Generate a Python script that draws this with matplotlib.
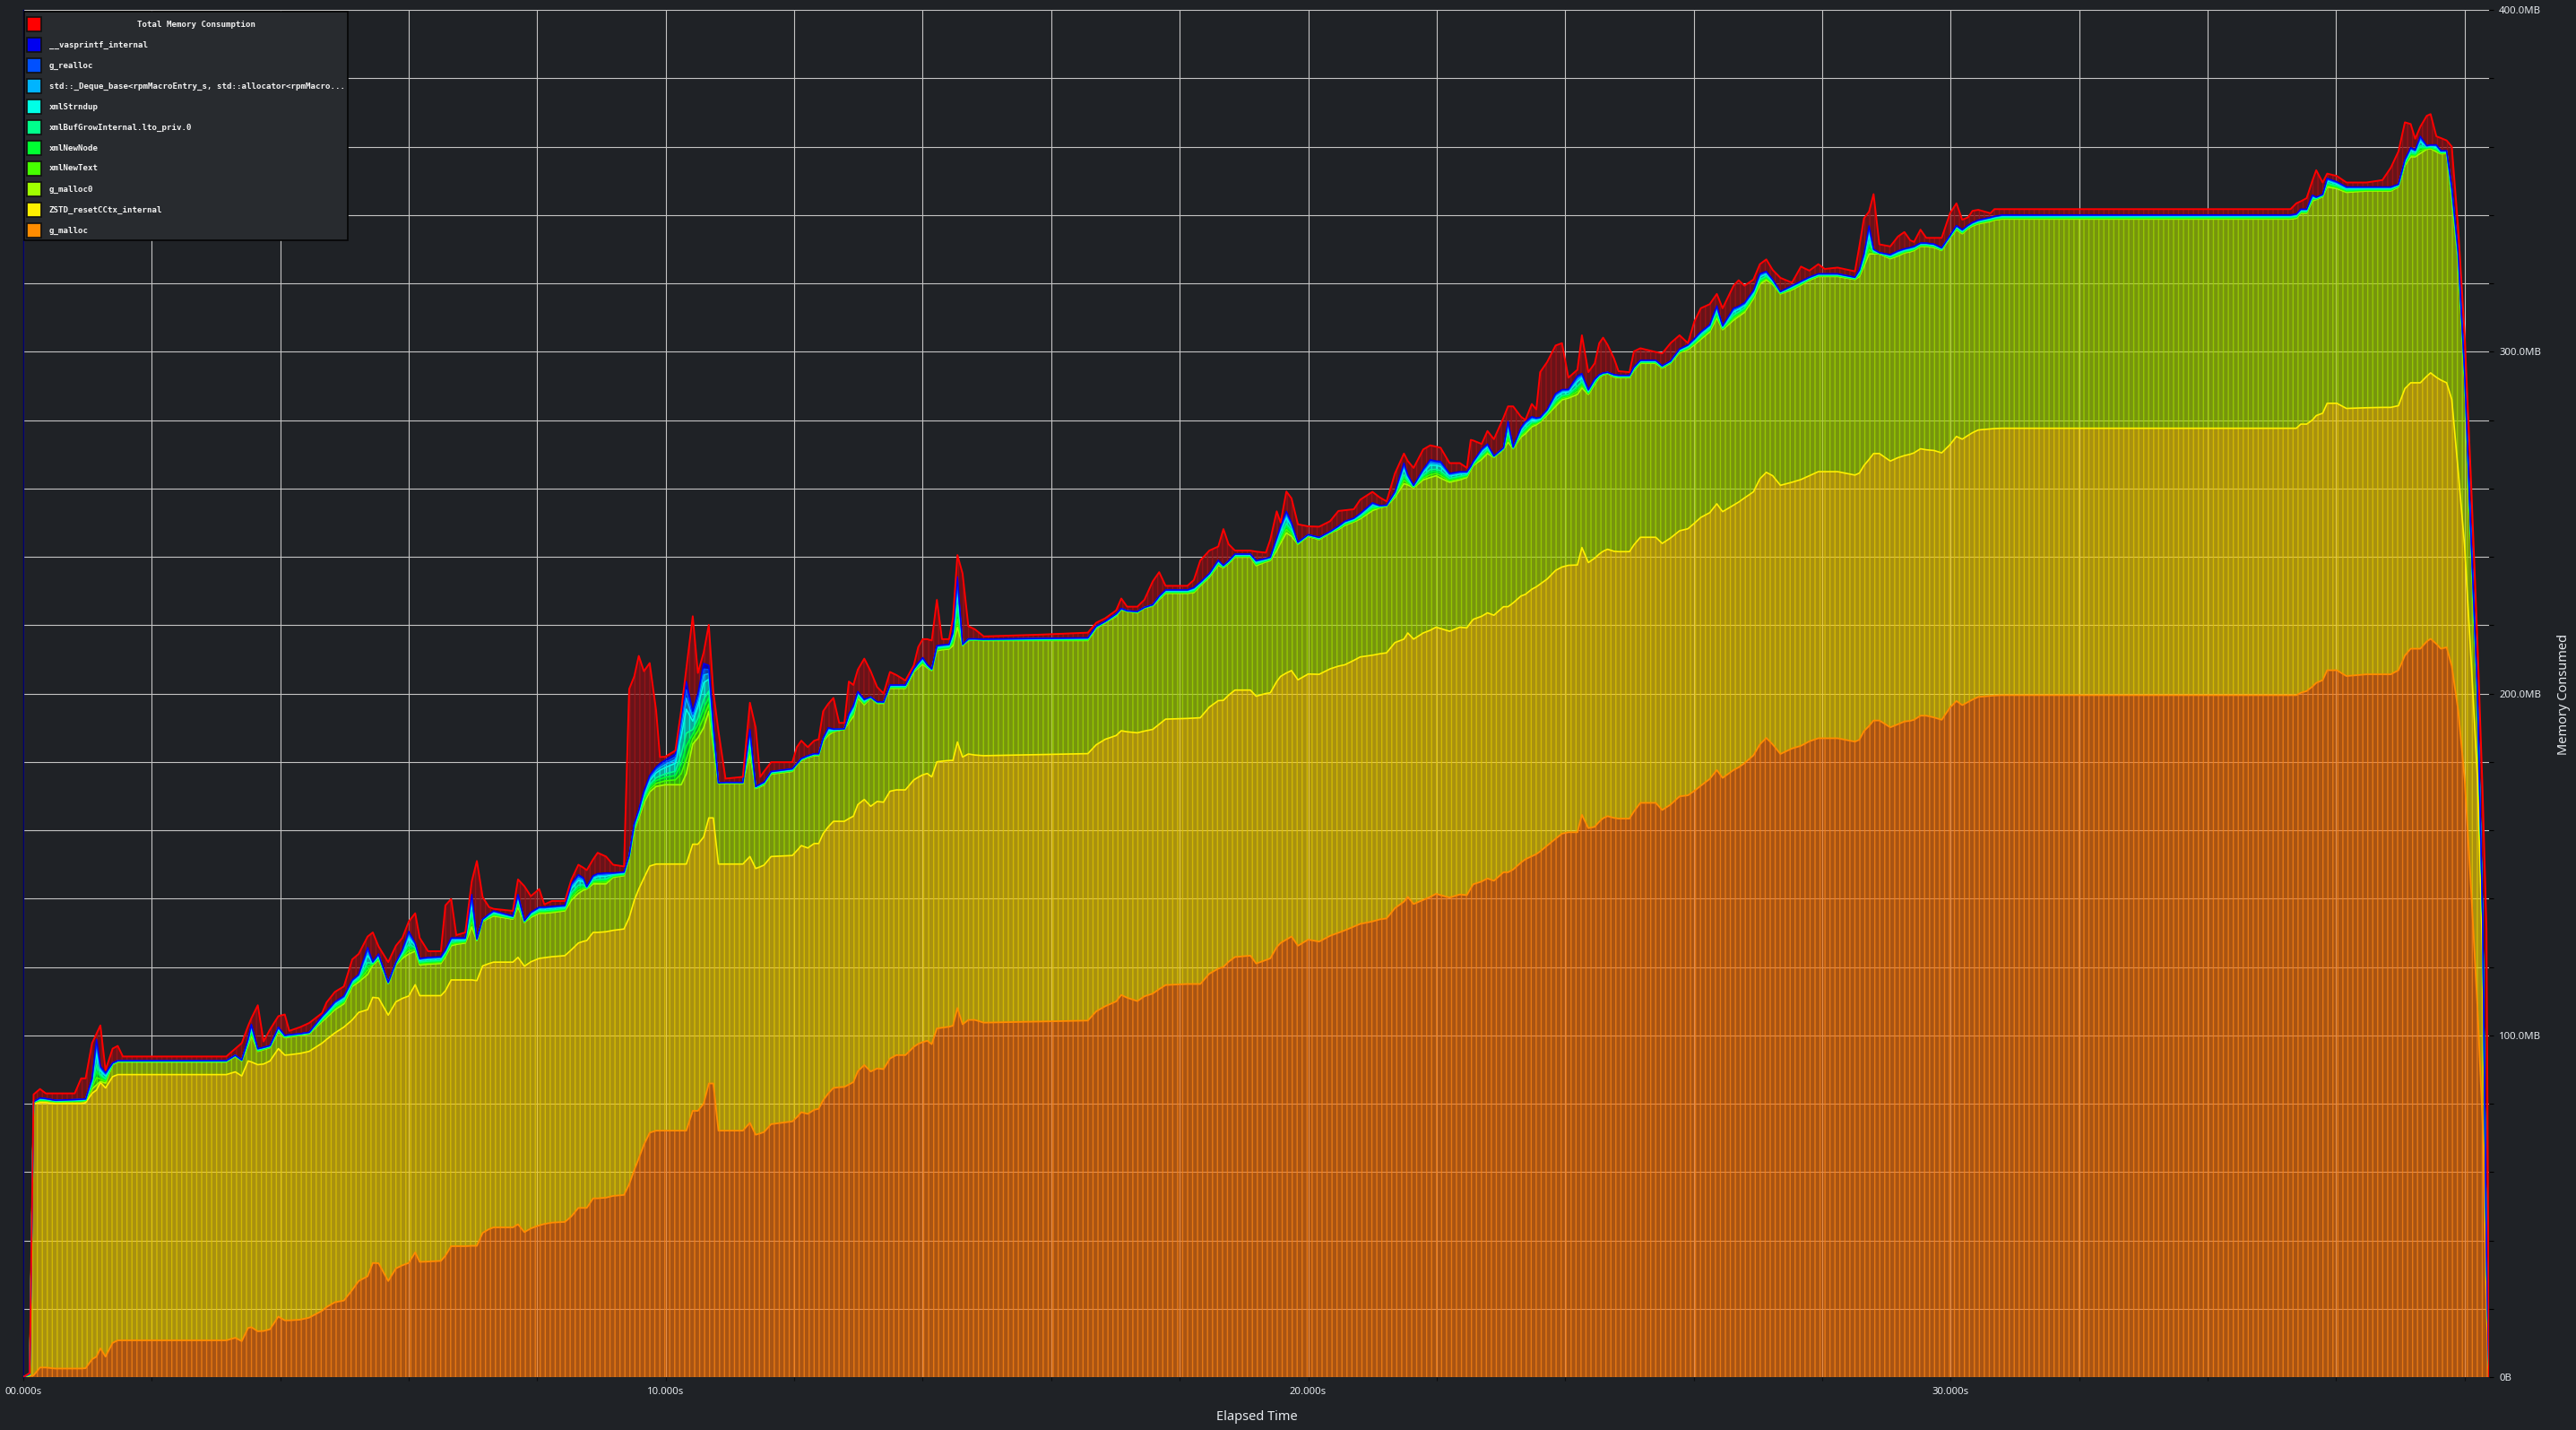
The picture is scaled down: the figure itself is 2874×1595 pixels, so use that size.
import numpy as np
import matplotlib
matplotlib.use("Agg")
import matplotlib.pyplot as plt
from matplotlib.colors import to_rgba
from matplotlib.patches import Rectangle
from matplotlib.ticker import MultipleLocator, FuncFormatter

plt.rcParams['font.family'] = ['Noto Sans', 'DejaVu Sans']
plt.rcParams['hatch.linewidth'] = 1.0

# heaptrack consumption chart.
# stacked levels in MB (top edge of each band) at each sample time in s
time_s = [
    0.0, 0.10, 0.16, 0.26, 0.35, 0.50, 0.80, 0.90, 0.97, 1.07,
    1.14, 1.20, 1.28, 1.39, 1.47, 1.55, 2.50, 3.16, 3.30, 3.40,
    3.50, 3.55, 3.65, 3.74, 3.84, 3.97, 4.07, 4.14, 4.31, 4.45,
    4.65, 4.72, 4.85, 4.99, 5.12, 5.22, 5.36, 5.44, 5.53, 5.68,
    5.80, 5.90, 6.00, 6.10, 6.17, 6.30, 6.50, 6.57, 6.66, 6.74,
    6.88, 6.98, 7.06, 7.15, 7.25, 7.32, 7.62, 7.70, 7.80, 7.90,
    8.03, 8.11, 8.23, 8.43, 8.53, 8.64, 8.72, 8.77, 8.87, 8.94,
    9.07, 9.18, 9.35, 9.43, 9.51, 9.58, 9.66, 9.75, 9.85, 9.91,
    9.99, 10.15, 10.24, 10.32, 10.42, 10.50, 10.59, 10.67, 10.74, 10.82,
    10.93, 11.20, 11.31, 11.40, 11.47, 11.53, 11.64, 11.97, 12.04, 12.11,
    12.21, 12.31, 12.38, 12.45, 12.53, 12.61, 12.70, 12.78, 12.85, 12.92,
    12.99, 13.09, 13.19, 13.29, 13.39, 13.49, 13.59, 13.73, 13.86, 13.93,
    14.00, 14.07, 14.14, 14.22, 14.30, 14.41, 14.47, 14.54, 14.62, 14.71,
    14.81, 14.95, 15.80, 16.57, 16.70, 16.84, 17.01, 17.09, 17.18, 17.34,
    17.45, 17.58, 17.68, 17.78, 18.12, 18.22, 18.32, 18.46, 18.60, 18.68,
    18.76, 18.86, 19.10, 19.19, 19.34, 19.41, 19.51, 19.57, 19.66, 19.74,
    19.84, 20.00, 20.17, 20.34, 20.47, 20.57, 20.71, 20.81, 21.00, 21.11,
    21.22, 21.35, 21.49, 21.55, 21.64, 21.79, 21.90, 21.99, 22.06, 22.20,
    22.36, 22.47, 22.53, 22.57, 22.70, 22.79, 22.89, 23.04, 23.11, 23.19,
    23.31, 23.38, 23.48, 23.55, 23.61, 23.72, 23.85, 23.95, 24.05, 24.19,
    24.26, 24.36, 24.46, 24.53, 24.59, 24.66, 24.76, 24.83, 25.00, 25.07,
    25.17, 25.41, 25.51, 25.64, 25.78, 25.91, 26.01, 26.11, 26.25, 26.36,
    26.45, 26.62, 26.70, 26.79, 26.93, 27.03, 27.13, 27.23, 27.35, 27.53,
    27.67, 27.80, 27.94, 28.04, 28.24, 28.51, 28.58, 28.65, 28.73, 28.80,
    28.89, 29.06, 29.18, 29.28, 29.37, 29.43, 29.53, 29.62, 29.74, 29.86,
    29.99, 30.09, 30.18, 30.27, 30.34, 30.43, 30.62, 30.68, 30.80, 33.00,
    35.29, 35.38, 35.45, 35.54, 35.63, 35.69, 35.79, 35.86, 36.01, 36.16,
    36.47, 36.72, 36.85, 36.97, 37.07, 37.16, 37.23, 37.31, 37.41, 37.47,
    37.56, 37.63, 37.72, 37.80, 37.90, 38.00, 38.10, 38.20, 38.28, 38.34,
    38.38,
]

lvl_g_malloc = [
    0, 0.3, 0.5, 2.8, 2.8, 2.5, 2.5, 2.5, 2.6, 5.2,
    6.0, 8.4, 6.0, 10.0, 10.75, 10.75, 10.75, 10.75, 11.5, 10.5,
    14.4, 14.6, 13.4, 13.5, 14.0, 17.7, 16.6, 16.6, 16.8, 17.4,
    19.4, 20.5, 21.9, 22.4, 25.5, 28.1, 29.5, 33.4, 33.3, 28.1,
    31.8, 32.7, 33.4, 36.5, 33.7, 33.8, 34.0, 35.5, 38.3, 38.3,
    38.3, 38.4, 38.4, 42.2, 43.3, 43.8, 43.8, 44.7, 42.4, 43.5,
    44.4, 44.8, 45.2, 45.4, 47.0, 49.5, 49.5, 49.5, 52.3, 52.3,
    52.5, 53.0, 53.3, 56.4, 60.6, 64.0, 68.0, 71.5, 72.1, 72.1,
    72.1, 72.1, 72.1, 72.1, 77.9, 77.9, 80.0, 85.9, 85.9, 72.1,
    72.1, 72.1, 74.4, 70.9, 71.3, 71.7, 74.0, 74.8, 76.0, 77.5,
    77.0, 78.2, 78.5, 81.0, 83.0, 84.6, 84.8, 84.9, 85.6, 86.3,
    89.5, 91.3, 89.4, 90.3, 90.1, 93.2, 94.2, 94.2, 96.6, 97.5,
    98.0, 98.4, 97.4, 102.0, 102.2, 102.5, 102.8, 108.0, 103.2, 104.5,
    104.5, 103.7, 104.0, 104.3, 107.0, 108.5, 109.9, 111.8, 111.0, 110.0,
    111.4, 112.2, 113.5, 114.7, 115.0, 115.0, 115.0, 118.0, 119.5, 120.0,
    121.5, 122.9, 123.3, 121.0, 122.0, 122.5, 125.8, 127.0, 128.0, 128.9,
    126.2, 128.0, 127.4, 129.1, 130.0, 130.7, 131.8, 132.6, 133.3, 133.9,
    134.2, 137.2, 139.1, 140.5, 138.4, 139.6, 140.5, 141.4, 141.0, 140.3,
    141.2, 141.0, 143.0, 144.2, 145.0, 145.9, 145.2, 147.7, 147.7, 148.5,
    150.5, 151.5, 152.4, 153.0, 153.8, 155.5, 157.5, 159.0, 159.4, 159.4,
    164.5, 160.6, 161.0, 162.5, 163.5, 164.1, 163.6, 163.4, 163.4, 165.5,
    168.0, 168.0, 165.9, 167.5, 169.9, 170.2, 171.5, 173.0, 175.0, 177.6,
    175.3, 177.6, 178.4, 179.6, 181.9, 185.1, 187.0, 185.1, 182.3, 183.9,
    184.7, 186.0, 186.9, 186.9, 186.9, 185.9, 186.5, 189.0, 190.5, 192.1,
    192.1, 190.1, 191.0, 191.8, 192.0, 192.3, 193.5, 193.5, 193.0, 192.3,
    195.9, 197.8, 196.6, 197.5, 198.2, 199.0, 199.3, 199.4, 199.5, 199.5,
    199.5, 199.5, 200.2, 200.7, 202.0, 203.1, 203.9, 206.8, 206.8, 205.1,
    205.6, 205.6, 205.6, 206.8, 211.1, 213.1, 213.1, 213.1, 215.2, 216.0,
    214.5, 213.1, 213.5, 208.0, 195.0, 175.0, 143.0, 108.0, 74.0, 20.0,
    0,
]

lvl_zstd = [
    0, 0.5, 80.0, 80.3, 80.3, 80.0, 80.0, 80.0, 80.3, 83.0,
    84.0, 86.2, 84.6, 87.9, 88.5, 88.5, 88.5, 88.5, 89.3, 88.1,
    92.5, 92.2, 91.4, 91.6, 92.5, 96.1, 94.2, 94.3, 94.7, 95.3,
    97.7, 98.8, 100.7, 102.4, 104.5, 106.7, 107.5, 111.1, 110.9, 105.9,
    109.8, 110.8, 111.5, 114.8, 111.6, 111.6, 111.6, 113.0, 116.2, 116.2,
    116.2, 116.2, 116.0, 120.3, 121.0, 121.4, 121.4, 122.8, 120.2, 121.5,
    122.5, 122.7, 123.0, 123.3, 125.0, 127.0, 127.5, 127.7, 130.1, 130.1,
    130.3, 130.7, 131.1, 134.4, 139.5, 142.8, 146.0, 149.5, 150.1, 150.1,
    150.1, 150.1, 150.1, 150.1, 155.9, 155.9, 158.0, 163.6, 163.6, 150.1,
    150.1, 150.1, 152.3, 148.8, 149.3, 149.8, 152.3, 152.6, 154.0, 155.5,
    154.8, 156.1, 156.1, 159.0, 161.0, 162.6, 162.6, 162.6, 163.4, 164.1,
    167.5, 169.0, 167.0, 168.4, 168.2, 171.4, 171.8, 171.8, 174.7, 175.5,
    176.2, 176.6, 175.6, 180.0, 180.2, 180.4, 180.4, 185.8, 181.4, 182.3,
    182.0, 181.8, 182.1, 182.4, 185.0, 186.6, 187.7, 189.1, 188.8, 188.5,
    189.0, 189.5, 191.0, 192.5, 192.7, 192.8, 192.9, 196.0, 197.9, 198.0,
    199.5, 201.0, 201.0, 199.2, 200.0, 200.2, 203.5, 205.0, 206.0, 206.7,
    204.0, 205.7, 205.6, 207.2, 208.0, 208.4, 209.7, 210.7, 211.2, 211.6,
    211.9, 214.9, 215.9, 217.7, 215.9, 217.7, 218.5, 219.4, 219.0, 218.2,
    219.4, 219.2, 220.8, 221.7, 222.6, 223.6, 222.9, 225.4, 225.4, 226.5,
    228.5, 229.0, 230.5, 231.2, 232.0, 233.5, 236.0, 237.0, 237.5, 237.6,
    242.7, 238.3, 239.6, 240.8, 241.6, 242.2, 241.6, 241.5, 241.5, 243.5,
    245.7, 245.7, 243.9, 245.5, 247.6, 248.2, 249.8, 251.5, 252.9, 255.5,
    253.2, 255.1, 256.0, 257.2, 259.0, 262.8, 264.7, 263.7, 260.9, 261.8,
    262.6, 263.7, 264.9, 264.9, 264.9, 263.9, 264.5, 266.7, 268.5, 270.2,
    270.2, 268.0, 269.0, 269.6, 270.0, 270.4, 271.6, 271.3, 271.1, 270.4,
    272.8, 275.2, 274.4, 275.5, 276.3, 277.1, 277.4, 277.5, 277.6, 277.6,
    277.6, 277.6, 278.8, 278.8, 280.0, 281.3, 282.0, 284.9, 284.9, 283.4,
    283.6, 283.7, 283.7, 284.2, 289.2, 290.9, 290.9, 290.9, 292.8, 293.8,
    292.5, 291.7, 290.9, 286.0, 265.0, 243.0, 210.0, 175.0, 123.0, 30.0,
    0,
]

lvl_g_malloc0 = [
    0, 0.6, 80.3, 80.8, 80.8, 80.5, 80.6, 80.6, 80.8, 84.3,
    85.5, 86.5, 86.0, 91.4, 92.2, 92.2, 92.2, 92.2, 93.8, 92.5,
    97.0, 100.0, 95.3, 95.8, 96.4, 100.9, 99.3, 99.5, 100.0, 100.4,
    104.0, 105.2, 107.5, 109.2, 114.3, 115.6, 117.8, 120.6, 122.0, 115.1,
    120.6, 122.5, 123.8, 124.6, 120.6, 120.8, 121.0, 123.0, 126.2, 126.6,
    127.0, 131.7, 127.7, 133.3, 134.3, 134.9, 134.0, 137.5, 133.0, 134.5,
    135.7, 135.7, 135.9, 136.4, 139.5, 141.5, 142.5, 142.8, 144.3, 144.3,
    144.3, 146.2, 146.7, 151.7, 160.0, 163.5, 168.0, 171.2, 172.8, 173.0,
    173.3, 173.3, 173.3, 176.5, 185.2, 187.0, 190.0, 194.8, 184.3, 173.7,
    173.7, 173.7, 182.4, 172.2, 172.7, 173.3, 176.4, 177.2, 179.0, 180.4,
    181.2, 181.8, 181.8, 186.0, 187.8, 188.8, 189.2, 189.5, 191.5, 193.3,
    198.7, 196.7, 198.7, 197.1, 197.1, 201.5, 201.5, 201.5, 206.3, 207.5,
    208.6, 207.5, 206.7, 212.5, 212.8, 213.0, 214.0, 219.4, 214.0, 215.5,
    215.6, 215.5, 215.5, 215.5, 219.0, 220.7, 222.6, 224.5, 224.0, 223.6,
    225.0, 225.6, 227.5, 229.3, 229.3, 229.5, 231.5, 234.0, 237.5, 236.8,
    238.0, 239.9, 239.9, 237.4, 238.5, 238.9, 241.8, 244.0, 247.0, 246.0,
    243.7, 246.0, 245.0, 246.9, 248.0, 249.2, 250.2, 251.1, 253.5, 254.3,
    254.8, 257.4, 261.4, 261.0, 260.2, 262.5, 263.2, 263.7, 263.0, 261.8,
    262.5, 263.2, 265.5, 266.7, 268.5, 270.2, 269.1, 271.4, 273.5, 271.6,
    275.0, 276.0, 278.0, 278.6, 279.4, 281.5, 284.0, 285.9, 286.4, 287.5,
    289.4, 287.5, 290.5, 292.4, 293.2, 293.6, 292.6, 292.4, 292.4, 294.5,
    296.6, 296.6, 295.2, 296.6, 299.7, 300.6, 302.0, 303.6, 305.8, 309.9,
    306.4, 309.2, 310.3, 311.5, 315.5, 319.7, 321.0, 319.7, 316.9, 318.1,
    319.5, 320.9, 322.0, 322.0, 322.0, 321.1, 322.0, 325.0, 328.6, 328.6,
    328.6, 327.2, 328.0, 328.9, 329.2, 329.6, 330.8, 330.8, 330.5, 329.6,
    333.3, 335.7, 334.5, 336.0, 336.8, 337.4, 338.1, 338.5, 338.8, 338.8,
    338.8, 339.0, 340.5, 340.5, 344.1, 344.5, 345.3, 348.2, 347.7, 346.6,
    347.0, 347.0, 347.0, 348.2, 354.5, 357.0, 357.0, 358.0, 359.2, 359.4,
    358.5, 357.9, 358.0, 345.0, 326.0, 292.0, 243.0, 197.0, 133.0, 35.0,
    0,
]

# top of the whole stack (upper edge of __vasprintf_internal)
lvl_stack_top = [
    0, 1.0, 80.6, 81.7, 81.5, 81.0, 81.2, 81.3, 81.4, 87.4,
    98.8, 91.0, 89.0, 91.9, 92.6, 92.6, 92.6, 92.6, 94.2, 92.8,
    99.0, 103.2, 96.1, 96.5, 97.0, 102.4, 100.0, 100.2, 100.5, 100.9,
    105.6, 107.0, 109.8, 111.5, 116.2, 117.8, 125.7, 121.5, 123.8, 115.5,
    121.4, 125.0, 130.4, 127.0, 122.5, 122.8, 123.0, 125.0, 128.5, 128.5,
    128.5, 141.2, 128.2, 134.0, 135.5, 136.4, 134.9, 141.2, 133.6, 136.0,
    137.5, 137.5, 137.7, 138.0, 144.3, 147.0, 146.0, 143.5, 146.7, 147.3,
    147.5, 147.5, 147.8, 152.6, 162.0, 166.0, 171.5, 176.0, 178.5, 179.5,
    180.5, 182.3, 193.4, 203.5, 194.8, 200.0, 208.8, 208.2, 191.0, 173.9,
    174.0, 174.0, 189.5, 172.8, 173.5, 174.1, 177.2, 178.0, 179.5, 181.0,
    181.8, 182.4, 182.4, 187.0, 190.0, 189.6, 189.6, 189.7, 194.0, 196.5,
    200.6, 198.3, 199.0, 197.6, 197.5, 202.5, 202.5, 202.5, 207.2, 209.0,
    210.5, 208.5, 207.2, 214.0, 214.2, 214.4, 218.0, 234.1, 214.4, 216.0,
    216.0, 215.9, 216.1, 216.3, 219.7, 221.1, 223.3, 224.9, 224.2, 224.0,
    225.2, 226.0, 228.5, 230.3, 230.3, 231.0, 232.6, 235.1, 239.0, 237.5,
    238.8, 240.8, 240.8, 238.9, 239.5, 239.9, 245.6, 249.0, 253.3, 250.0,
    244.3, 246.5, 245.7, 247.4, 249.0, 250.4, 251.3, 252.7, 255.8, 255.0,
    255.1, 259.0, 267.4, 264.0, 260.9, 265.6, 268.4, 268.0, 267.9, 264.4,
    264.9, 264.9, 266.5, 267.9, 271.5, 273.0, 269.5, 271.9, 279.6, 272.1,
    277.7, 279.5, 281.0, 280.6, 280.8, 283.1, 287.7, 288.9, 289.0, 292.9,
    293.6, 288.9, 292.0, 293.3, 293.8, 294.0, 293.3, 293.1, 293.1, 295.5,
    297.5, 297.5, 295.9, 297.3, 300.8, 302.0, 303.8, 305.8, 307.9, 313.4,
    307.6, 312.7, 313.3, 314.3, 317.9, 322.8, 323.5, 321.1, 317.6, 319.3,
    320.6, 321.8, 322.8, 322.8, 322.8, 321.8, 324.0, 328.6, 336.8, 330.0,
    329.0, 328.4, 329.5, 330.1, 330.5, 330.8, 331.8, 331.8, 331.5, 330.4,
    334.0, 336.9, 335.7, 337.0, 337.8, 338.5, 339.3, 339.6, 340.0, 340.0,
    340.0, 340.3, 341.7, 341.7, 345.8, 345.2, 346.0, 350.7, 349.7, 348.2,
    348.2, 348.2, 348.2, 349.0, 356.2, 359.7, 359.0, 363.0, 360.3, 360.5,
    360.5, 358.8, 358.8, 348.0, 329.0, 294.0, 246.0, 200.0, 135.0, 37.0,
    0,
]

total_mb = [
    0, 1.2, 82.7, 84.3, 83.0, 83.0, 83.0, 87.4, 87.4, 97.7,
    100.5, 102.9, 89.8, 96.1, 96.9, 93.8, 93.8, 93.8, 96.1, 97.7,
    102.8, 105.0, 108.8, 98.2, 101.7, 105.6, 106.1, 101.3, 102.4, 103.6,
    106.5, 109.6, 112.7, 114.3, 122.2, 123.8, 128.9, 130.1, 126.0, 121.4,
    126.2, 128.5, 133.3, 135.7, 128.5, 124.6, 124.6, 138.0, 139.9, 129.3,
    130.1, 145.0, 151.0, 140.4, 137.5, 137.0, 136.4, 145.6, 143.6, 140.7,
    142.8, 138.3, 139.3, 139.3, 145.5, 149.9, 149.0, 148.3, 151.5, 153.4,
    152.3, 149.9, 149.4, 201.3, 205.0, 211.0, 206.5, 208.9, 195.0, 181.4,
    181.5, 183.3, 195.0, 207.3, 222.6, 206.0, 212.0, 220.1, 200.6, 189.0,
    175.1, 175.6, 197.3, 190.0, 175.6, 177.2, 179.9, 179.9, 184.3, 186.2,
    184.3, 186.2, 186.6, 194.8, 197.0, 198.7, 191.4, 191.4, 203.5, 202.5,
    207.0, 210.2, 206.5, 201.9, 200.0, 206.3, 205.4, 203.8, 208.2, 213.6,
    215.9, 215.9, 215.5, 227.4, 215.9, 215.9, 222.0, 240.5, 235.1, 219.7,
    218.8, 216.7, 217.2, 217.8, 220.7, 222.0, 224.3, 227.8, 225.4, 225.4,
    227.4, 232.8, 235.5, 231.5, 231.5, 233.2, 238.9, 241.8, 243.0, 248.1,
    243.7, 241.8, 241.8, 241.5, 241.2, 245.0, 253.3, 250.0, 259.1, 257.1,
    249.5, 248.9, 248.8, 250.4, 253.4, 253.6, 253.9, 256.7, 259.0, 257.4,
    256.2, 264.4, 270.2, 268.0, 266.0, 271.4, 272.6, 272.2, 271.9, 267.4,
    267.4, 266.0, 274.2, 274.0, 273.0, 276.8, 274.4, 280.7, 284.0, 284.0,
    281.0, 280.0, 284.7, 283.1, 294.0, 297.0, 301.8, 302.5, 292.4, 294.7,
    304.8, 294.0, 296.6, 302.5, 304.1, 302.0, 298.0, 294.3, 294.0, 300.1,
    301.0, 299.9, 299.5, 302.5, 304.8, 302.5, 308.8, 312.7, 313.9, 316.9,
    312.7, 319.3, 320.9, 319.3, 321.1, 325.6, 327.0, 323.9, 321.6, 320.2,
    324.9, 323.7, 325.6, 324.2, 324.6, 323.5, 331.0, 339.0, 341.0, 346.1,
    331.4, 330.8, 333.7, 335.0, 332.6, 332.1, 335.7, 333.3, 333.3, 333.3,
    340.5, 343.4, 338.6, 339.3, 341.2, 341.5, 340.5, 341.7, 341.7, 341.7,
    341.7, 343.4, 344.0, 344.9, 350.0, 353.1, 349.5, 352.1, 351.4, 349.5,
    349.5, 350.2, 353.8, 358.6, 367.1, 366.6, 362.3, 365.8, 369.0, 369.5,
    363.0, 362.5, 361.8, 360.0, 336.0, 305.0, 262.0, 215.0, 171.0, 131.0,
    0,
]

# the thin band between g_malloc0 and the stack top, bottom to top
thin_names = ["xmlNewText", "xmlNewNode", "xmlBufGrowInternal.lto_priv.0",
              "xmlStrndup", "std::_Deque_base", "g_realloc", "__vasprintf_internal"]
thin_share = [0.16, 0.14, 0.14, 0.26, 0.12, 0.09, 0.09]
thin_colors = ["#46ff00", "#00ff32", "#00ff8c", "#00ffe6", "#00b4ff", "#0050ff", "#0000f0"]

legend_labels = [
    "Total Memory Consumption",
    "__vasprintf_internal",
    "g_realloc",
    "std::_Deque_base<rpmMacroEntry_s, std::allocator<rpmMacro...",
    "xmlStrndup",
    "xmlBufGrowInternal.lto_priv.0",
    "xmlNewNode",
    "xmlNewText",
    "g_malloc0",
    "ZSTD_resetCCtx_internal",
    "g_malloc",
]
legend_colors = ["#ff0000", "#0000f0", "#0050ff", "#00b4ff", "#00ffe6", "#00ff8c",
                 "#00ff32", "#46ff00", "#a0ff00", "#fff000", "#ff8c00"]

BG = "#1f2226"
TXT = "#e6eaee"
W, H = 2874, 1595

fig = plt.figure(figsize=(W / 100, H / 100), dpi=100, facecolor=BG)
ax = fig.add_axes([26 / W, 59 / H, 2751 / W, 1525 / H], facecolor=BG)

t = np.array(time_s)
O = np.array(lvl_g_malloc)
Y = np.array(lvl_zstd)
G = np.array(lvl_g_malloc0)
B = np.array(lvl_stack_top)
R = np.array(total_mb)


def band(lo, hi, face, hatch_col, line_col, lw):
    ax.fill_between(t, lo, hi, facecolor=face, edgecolor=hatch_col,
                    hatch="|||", linewidth=0, zorder=2)
    ax.plot(t, hi, color=line_col, lw=lw, zorder=3)


band(np.zeros_like(t), O, to_rgba("#f5700a", 0.65), to_rgba("#f58114", 0.8), "#ff8c00", 1.3)
band(O, Y, to_rgba("#f5cd03", 0.65), to_rgba("#dcc300", 0.8), "#fff000", 1.2)
band(Y, G, to_rgba("#a8d400", 0.65), to_rgba("#9dd400", 0.8), "#a0ff00", 1.2)

gap = B - G
lo = G
for share, col in zip(thin_share, thin_colors):
    hi = lo + gap * share
    band(lo, hi, to_rgba(col, 0.6), to_rgba(col, 0.8), col, 1.1)
    lo = hi

band(B, R, to_rgba("#910c12", 0.65), to_rgba("#a01418", 0.8), "#ff0000", 1.4)

ax.set_xlim(0, 38.38)
ax.set_ylim(0, 400)

ax.xaxis.set_major_locator(MultipleLocator(10))
ax.xaxis.set_minor_locator(MultipleLocator(2))
ax.xaxis.set_major_formatter(FuncFormatter(lambda v, p: f"{v:06.3f}s"))
ax.yaxis.set_major_locator(MultipleLocator(100))
ax.yaxis.set_minor_locator(MultipleLocator(20))
ax.yaxis.set_major_formatter(FuncFormatter(lambda v, p: "0B" if v == 0 else f"{v:.1f}MB"))

ax.yaxis.tick_right()
ax.tick_params(axis="x", which="both", colors="#0c0d0f", length=3, width=0.8,
               labelcolor=TXT, labelsize=8.2, pad=5)
ax.tick_params(axis="y", which="both", colors="#000000", length=3.5, width=0.8,
               labelcolor=TXT, labelsize=8.2, pad=4.5)

ax.set_axisbelow(True)
ax.grid(True, which="both", color="#c4c4c4", linewidth=0.8)

for side in ["top", "right", "bottom"]:
    ax.spines[side].set_visible(False)
ax.spines["left"].set_color("#000070")
ax.spines["left"].set_linewidth(1.0)

fig.text(1402 / W, 1 - 1580 / H, "Elapsed Time", color=TXT, fontsize=10.5,
         ha="center", va="center")
fig.text(2860 / W, 1 - 774 / H, "Memory Consumed", color=TXT, fontsize=10.5,
         ha="center", va="center", rotation=90)


# legend box, drawn by hand in pixel positions
def fx(x):
    return x / W


def fy(y):
    return 1 - y / H


fig.add_artist(Rectangle((fx(27), fy(268)), (388 - 27) / W, (268 - 13) / H,
                         transform=fig.transFigure, facecolor="#282b2f",
                         edgecolor="#050505", lw=1.2, zorder=5))
for i, (lab, col) in enumerate(zip(legend_labels, legend_colors)):
    cy = 27 + 23 * i
    fig.add_artist(Rectangle((fx(29.5), fy(cy + 8)), 16 / W, 16 / H,
                             transform=fig.transFigure, facecolor=col,
                             edgecolor="#101010", lw=1.2, zorder=6))
    if i == 0:
        fig.text(fx(219), fy(cy), lab, ha="center", va="center", color="#f2f2f2",
                 fontsize=6.6, family="DejaVu Sans Mono", weight="bold", zorder=7)
    else:
        fig.text(fx(55), fy(cy), lab, ha="left", va="center", color="#f2f2f2",
                 fontsize=6.6, family="DejaVu Sans Mono", weight="bold", zorder=7)

fig.savefig("out.png", dpi=100, facecolor=BG)
